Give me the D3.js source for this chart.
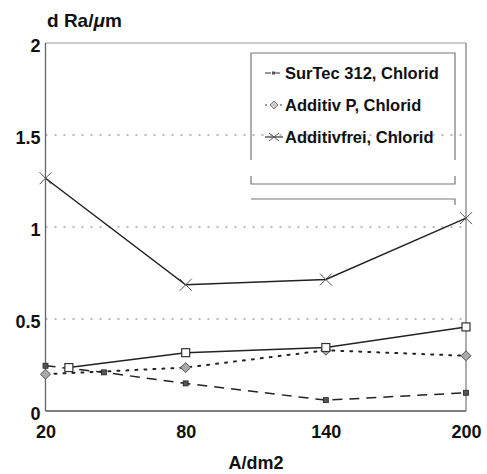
<!DOCTYPE html>
<html><head><meta charset="utf-8">
<script src="https://cdn.jsdelivr.net/npm/d3@7"></script>
<style>
html,body{margin:0;padding:0;background:#fff;}
svg text{font-family:"Liberation Sans",Arial,sans-serif;font-weight:bold;fill:#111;}
</style></head>
<body><svg id="c" width="487" height="474"></svg>
<script>
const xTicks = [20, 80, 140, 200];
const yTicks = [0, 0.5, 1, 1.5, 2];
const gridValues = [0.5, 1, 1.5];
const surtecX = [20, 45, 80, 140, 200];
const surtecY = [0.246, 0.21, 0.15, 0.059, 0.099];
const additivPX = [20, 80, 140, 200];
const additivPY = [0.2, 0.236, 0.33, 0.3];
const freiX = [20, 80, 140, 200];
const freiY = [1.265, 0.686, 0.715, 1.048];
const fourthX = [30, 80, 140, 200];
const fourthY = [0.236, 0.317, 0.345, 0.457];
const legendLabels = ["SurTec 312, Chlorid", "Additiv  P, Chlorid", "Additivfrei, Chlorid"];
const yTitle = "d Ra/";
const xTitle = "A/dm2";

const svg = d3.select("#c");
const L = 45.5, R = 466, T = 43, B = 411;
const x = d3.scaleLinear().domain([20, 200]).range([L, R]);
const y = d3.scaleLinear().domain([0, 2]).range([B, T]);

// gridlines
svg.append("g").selectAll("line").data(gridValues).join("line")
  .attr("x1", L).attr("x2", R).attr("y1", d => y(d)).attr("y2", d => y(d))
  .attr("stroke", "#777").attr("stroke-width", 1.2).attr("stroke-dasharray", "2,7");

// frame
svg.append("line").attr("x1", L).attr("x2", R).attr("y1", y(2)).attr("y2", y(2)).attr("stroke", "#999").attr("stroke-width", 1);
svg.append("line").attr("x1", L).attr("x2", L).attr("y1", T).attr("y2", B).attr("stroke", "#666").attr("stroke-width", 1.3);
svg.append("line").attr("x1", R).attr("x2", R).attr("y1", T).attr("y2", B).attr("stroke", "#777").attr("stroke-width", 1.2);
svg.append("line").attr("x1", L).attr("x2", R).attr("y1", B).attr("y2", B).attr("stroke", "#555").attr("stroke-width", 1.3);

// axes labels
const ya = svg.append("g").attr("transform", `translate(${L},3)`)
  .call(d3.axisLeft(y).tickValues(yTicks).tickSize(0).tickPadding(5).tickFormat(d => String(d)));
ya.select(".domain").remove();
ya.selectAll("text").style("font-size", "18px").style("font-family", '"Liberation Sans",Arial,sans-serif').style("font-weight", "bold").attr("fill", "#111");

const xa = svg.append("g").attr("transform", `translate(0,${B})`)
  .call(d3.axisBottom(x).tickValues(xTicks).tickSize(0).tickPadding(14).tickFormat(d => String(d)));
xa.select(".domain").remove();
xa.selectAll("text").style("font-size", "18px").style("font-family", '"Liberation Sans",Arial,sans-serif').style("font-weight", "bold").attr("fill", "#111");

// titles
const yt = svg.append("text").attr("x", 47).attr("y", 27).style("font-size", "19px").text(yTitle);
yt.append("tspan").style("font-style", "italic").text("\u03bc");
yt.append("tspan").text("m");
svg.append("text").attr("x", 256).attr("y", 469).attr("text-anchor", "middle").style("font-size", "18px").text(xTitle);

// line generator
const line = d3.line().x(d => x(d[0])).y(d => y(d[1]));
const zip = (a, b) => a.map((v, i) => [v, b[i]]);

// series
const sSur = zip(surtecX, surtecY), sAdd = zip(additivPX, additivPY), sFrei = zip(freiX, freiY), s4 = zip(fourthX, fourthY);

svg.append("path").attr("d", line(sSur)).attr("fill", "none").attr("stroke", "#222").attr("stroke-width", 1.5).attr("stroke-dasharray", "10,7");
svg.append("path").attr("d", line(sAdd)).attr("fill", "none").attr("stroke", "#222").attr("stroke-width", 2).attr("stroke-dasharray", "2,7").attr("stroke-linecap", "round");
svg.append("path").attr("d", line(sFrei)).attr("fill", "none").attr("stroke", "#222").attr("stroke-width", 1.5);
svg.append("path").attr("d", line(s4)).attr("fill", "none").attr("stroke", "#222").attr("stroke-width", 1.5);

function sqSmall(g, cx, cy) {
  g.append("rect").attr("x", cx - 2.5).attr("y", cy - 2.5).attr("width", 5).attr("height", 5).attr("fill", "#555").attr("stroke", "#222").attr("stroke-width", 0.8);
}
function diamond(g, cx, cy) {
  g.append("path").attr("d", `M${cx},${cy - 5}L${cx + 5},${cy}L${cx},${cy + 5}L${cx - 5},${cy}Z`).attr("fill", "#aaa").attr("stroke", "#555").attr("stroke-width", 1);
}
function cross(g, cx, cy) {
  g.append("path").attr("d", `M${cx - 6},${cy - 6}L${cx + 6},${cy + 6}M${cx - 6},${cy + 6}L${cx + 6},${cy - 6}`).attr("stroke", "#555").attr("stroke-width", 1);
}
function sqOpen(g, cx, cy) {
  g.append("rect").attr("x", cx - 4).attr("y", cy - 4).attr("width", 8).attr("height", 8).attr("fill", "#fff").attr("stroke", "#333").attr("stroke-width", 1.2);
}
const mg = svg.append("g");
sSur.forEach(d => sqSmall(mg, x(d[0]), y(d[1])));
sAdd.forEach(d => diamond(mg, x(d[0]), y(d[1])));
sFrei.forEach(d => cross(mg, x(d[0]), y(d[1])));
s4.forEach(d => sqOpen(mg, x(d[0]), y(d[1])));

// legend
const lg = svg.append("g");
const lx0 = 251, lx1 = 455, ly0 = 53;
lg.append("path").attr("d", `M${lx0},160V${ly0}H${lx1}V160`).attr("fill", "none").attr("stroke", "#777").attr("stroke-width", 1.2);
lg.append("path").attr("d", `M${lx0},176V184H${lx1}V176`).attr("fill", "none").attr("stroke", "#777").attr("stroke-width", 1.2);
lg.append("path").attr("d", `M${lx0},199H${lx1}V205`).attr("fill", "none").attr("stroke", "#777").attr("stroke-width", 1.2);
const rowY = [73, 105, 137];
const dashes = ["10,7", "2,4", null];
const markers = [sqSmall, diamond, cross];
legendLabels.forEach((lab, i) => {
  const yy = rowY[i];
  const p = lg.append("line").attr("x1", 265).attr("x2", 283).attr("y1", yy).attr("y2", yy).attr("stroke", "#333").attr("stroke-width", 1.2);
  if (dashes[i]) p.attr("stroke-dasharray", i === 0 ? "6,3" : "2,3");
  const mgl = lg.append("g");
  if (i === 0) mgl.append("rect").attr("x", 272).attr("y", yy - 1.5).attr("width", 3).attr("height", 3).attr("fill", "#555");
  else if (i === 1) mgl.append("path").attr("d", `M274,${yy - 4}L278,${yy}L274,${yy + 4}L270,${yy}Z`).attr("fill", "#ccc").attr("stroke", "#666").attr("stroke-width", 0.8);
  else mgl.append("path").attr("d", `M269,${yy - 4}L279,${yy + 4}M269,${yy + 4}L279,${yy - 4}`).attr("stroke", "#555").attr("stroke-width", 1);
  lg.append("text").attr("x", 285).attr("y", yy + 6).style("font-size", "16.5px").text(lab);
});
</script></body></html>
